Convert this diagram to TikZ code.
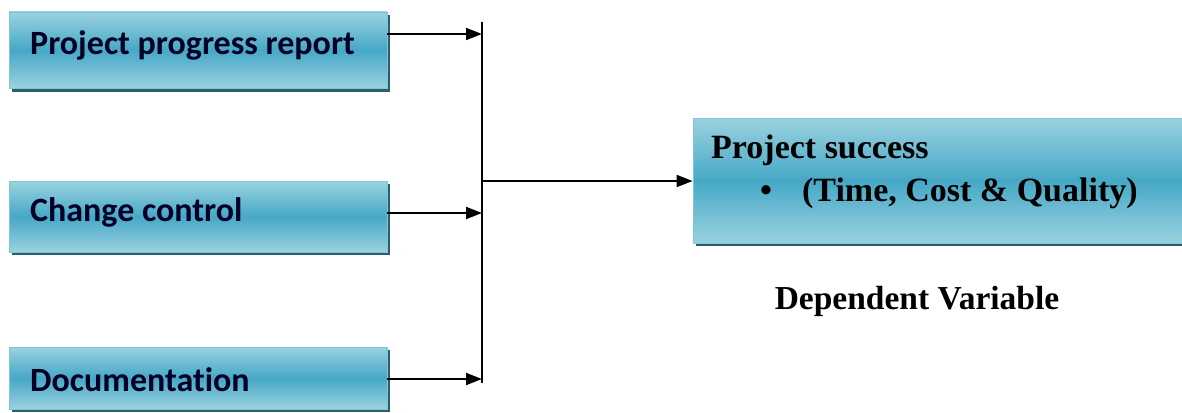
\documentclass[tikz,border=0pt]{standalone}
\usepackage{fontspec}
\setmainfont{Liberation Serif}
\newfontfamily\calib[Ligatures=NoCommon]{Carlito}
\usetikzlibrary{arrows.meta}
\definecolor{boxlight}{HTML}{9AD2E0}
\definecolor{boxmid}{HTML}{46A8C6}
\definecolor{boxshadow}{HTML}{2B5F6E}
\tikzset{
  varbox/.style={draw=boxlight!70!boxmid, line width=0.8pt, rectangle,
    top color=boxlight, bottom color=boxlight, middle color=boxmid,
    inner sep=0pt},
  lefttext/.style={font=\calib\bfseries\fontsize{34}{38}\selectfont, text=black!85!blue, anchor=west, inner sep=0pt},
  righttext/.style={font=\bfseries\fontsize{34}{38}\selectfont, text=black, anchor=west, inner sep=0pt},
  conn/.style={line width=1.8pt, -{Triangle[length=16pt,width=12pt]}},
  bus/.style={line width=1.8pt},
}
\begin{document}
\begin{tikzpicture}[x=1pt,y=-1pt]
\useasboundingbox (0,0) rectangle (1182,412);
\begin{scope}
\clip (0,0) rectangle (1182,412);
% drop shadows
\fill[boxshadow] (12,15) rectangle (390,92);
\fill[boxshadow] (12,184) rectangle (390,255);
\fill[boxshadow] (12,350) rectangle (390,412);
\fill[boxshadow] (696,121) rectangle (1190,246);
% boxes
\node[varbox, minimum width=378, minimum height=76] (b1) at (198,50) {};
\node[varbox, minimum width=378, minimum height=71] (b2) at (198,216.5) {};
\node[varbox, minimum width=378, minimum height=62] (b3) at (198,378) {};
\node[varbox, minimum width=500, minimum height=125] (out) at (943,180.5) {};
\end{scope}
% labels
\node[lefttext] (t1) at (30,45) {Project progress report};
\node[lefttext] (t2) at (30,212) {Change control};
\node[lefttext] (t3) at (30,380) {Documentation};
\node[righttext] (t4) at (711,150) {Project success};
\node[righttext] (t5) at (760,193) {\textbullet\hspace{30pt}(Time, Cost \& Quality)};
\node[font=\bfseries\fontsize{33.5}{38}\selectfont, inner sep=0pt] (dv) at (917,301) {Dependent Variable};
% collecting line
\coordinate (top) at (482,22);
\coordinate (bot) at (482,383);
\draw[bus] (top) -- (bot);
\coordinate (j1) at (482,34);
\coordinate (j2) at (482,213);
\coordinate (j3) at (482,379);
\coordinate (jo) at (482,181);
\draw[conn] (b1.east |- j1) -- (j1);
\draw[conn] (b2.east |- j2) -- (j2);
\draw[conn] (b3.east |- j3) -- (j3);
\draw[conn] (jo) -- (out.west |- jo);
\end{tikzpicture}
\end{document}
